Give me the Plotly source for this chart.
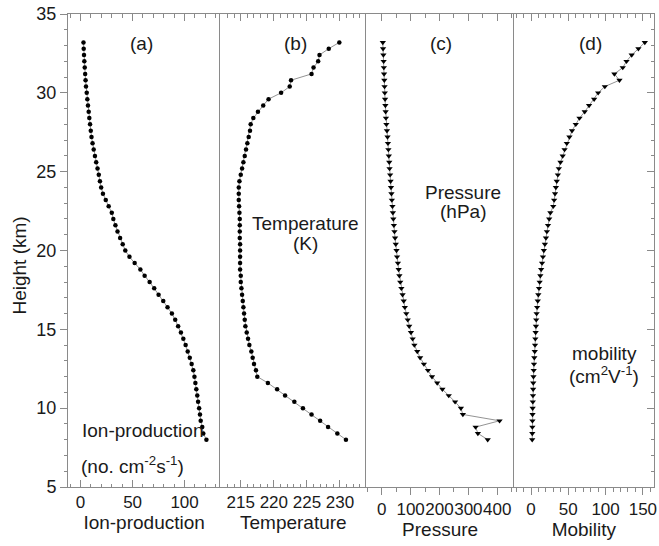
import plotly.graph_objects as go

# ---------------- data ----------------
heights = [8.0, 8.4, 8.8, 9.2, 9.6, 10.0, 10.4, 10.8, 11.2, 11.6, 12.0, 12.4, 12.8, 13.2, 13.6,
           14.0, 14.4, 14.8, 15.2, 15.6, 16.0, 16.4, 16.8, 17.2, 17.6, 18.0, 18.4, 18.8, 19.2, 19.6,
           20.0, 20.4, 20.8, 21.2, 21.6, 22.0, 22.4, 22.8, 23.2, 23.6, 24.0, 24.4, 24.8, 25.2, 25.6,
           26.0, 26.4, 26.8, 27.2, 27.6, 28.0, 28.4, 28.8, 29.2, 29.6, 30.0, 30.4, 30.8, 31.2, 31.6,
           32.0, 32.4, 32.8, 33.2]

ion_production = [121, 118, 117, 115.5, 114.8, 114, 113, 112.2, 111.3, 110.4, 109.5, 108.4, 106.8, 105, 103,
                  101, 98.8, 96.5, 93.8, 91, 87.8, 83.6, 79.5, 75, 70.8, 66.4, 61.6, 57.5, 52, 47,
                  43, 40.5, 38, 35.5, 33.5, 31.5, 30, 27, 24.2, 21.5, 19.8, 18.6, 17.5, 16.3, 15,
                  13.8, 12.6, 11.5, 10.5, 9.8, 9.1, 8.4, 7.8, 7.1, 6.5, 5.9, 5.2, 4.8, 4.4, 4.0,
                  3.6, 3.3, 3.0, 2.8]

temperature = [230.9, 229.6, 228.2, 227.0, 225.7, 224.4, 223.1, 221.7, 220.5, 219.1, 217.5, 217.3, 217.0, 216.8, 216.6,
               216.3, 216.1, 215.9, 215.7, 215.6, 215.5, 215.4, 215.3, 215.2, 215.1, 215.0, 215.0, 214.9, 214.9, 214.9,
               214.9, 214.9, 214.85, 214.85, 214.85, 214.85, 214.8, 214.75, 214.7, 214.7, 214.7, 214.8, 215.0, 215.2, 215.4,
               215.6, 215.8, 216.0, 216.2, 216.4, 216.5, 216.9, 217.6, 218.4, 219.2, 221.1, 222.4, 222.6, 225.7, 226.0,
               226.7, 226.9, 228.3, 229.9]

pressure = [367, 333, 325, 408, 281, 274, 254, 232, 210, 192, 174, 160, 146, 133, 123,
            113, 107, 101, 95, 90, 85, 80, 76, 72, 68, 64, 61, 58.5, 56, 53,
            51, 48.5, 46, 44, 42, 40, 38.5, 37, 35, 33.5, 32, 30.5, 29, 27, 26,
            24.5, 23, 21.5, 20, 18, 16, 14.5, 13.5, 12.5, 11.5, 10.5, 9.7, 8.9, 8.1, 7.3,
            6.5, 5.7, 4.6, 3.6]

mobility = [1.6, 1.7, 1.8, 1.9, 2.0, 2.2, 2.4, 2.6, 2.8, 3.0, 3.3, 3.6, 4.0, 4.4, 5.0,
            5.4, 5.8, 6.2, 6.6, 7.0, 7.5, 8.2, 9.0, 9.8, 10.7, 11.6, 12.5, 13.6, 14.8, 16.0,
            17.2, 18.6, 20.0, 21.3, 22.8, 24.4, 26.0, 29.8, 31.0, 32.2, 33.3, 34.5, 36, 37.3, 39.5,
            42.5, 45, 48, 51.5, 55, 60, 65, 72, 77.8, 84.6, 90, 99, 118.6, 111.8, 123,
            128, 135, 144, 152.6]

x_titles = ["Ion-production", "Temperature", "Pressure", "Mobility"]
panel_labels = ["(a)", "(b)", "(c)", "(d)"]
y_title = "Height (km)"

# ---------------- style ----------------
FONT = "Liberation Sans, Arial, sans-serif"
LINE = "#8a8a8a"
TXT = "#1a1a1a"
TICK_FS = 17
TITLE_FS = 19

fig = go.Figure()

series = [
    (ion_production, "x", "y", "circle", 4.5),
    (temperature, "x2", "y2", "circle", 4.5),
    (pressure, "x3", "y3", "triangle-down", 5.5),
    (mobility, "x4", "y4", "triangle-down", 5.5),
]
for vals, xa, ya, sym, sz in series:
    fig.add_trace(go.Scatter(
        x=vals, y=heights, xaxis=xa, yaxis=ya, mode="lines+markers",
        line=dict(color="#777777", width=0.8),
        marker=dict(symbol=sym, size=sz, color="black", line=dict(width=0)),
        showlegend=False, hoverinfo="skip"))

# invisible traces to realise the overlay axes (top ticks for c,d; right axis of d)
for xa, ya in [("x5", "y3"), ("x6", "y4"), ("x4", "y5")]:
    fig.add_trace(go.Scatter(x=[None], y=[None], xaxis=xa, yaxis=ya, mode="markers",
                             showlegend=False, hoverinfo="skip"))

d = [0, 0.2598, 0.5093, 0.7606, 1.0]
rng_a = [-12.1, 134.3]
rng_b = [211.9, 234]
rng_c = [-53, 457]
rng_d = [-23.2, 164.9]

def xax(i, rng, tickvals, minor_dtick, ticks, mirror):
    return dict(
        domain=[d[i], d[i + 1]], anchor="y" if i == 0 else f"y{i+1}", range=rng,
        tickmode="array", tickvals=tickvals, ticks=ticks, ticklen=7, tickcolor=LINE, tickwidth=1,
        minor=dict(dtick=minor_dtick, ticks=ticks, ticklen=3.5, tickcolor=LINE, tickwidth=1, tick0=0),
        showline=True, linecolor=LINE, linewidth=1, mirror=mirror, showgrid=False, zeroline=False,
        tickangle=0, ticklabeloverflow="allow",
        tickfont=dict(family=FONT, size=TICK_FS, color=TXT),
        title=dict(text=x_titles[i], font=dict(family=FONT, size=TITLE_FS, color=TXT), standoff=2),
    )

layout = dict(
    width=659, height=546, margin=dict(l=68, r=2, t=14, b=59),
    paper_bgcolor="white", plot_bgcolor="white",
    font=dict(family=FONT, color=TXT),
)
layout["xaxis"] = xax(0, rng_a, [0, 50, 100], 10, "inside", "ticks")
layout["xaxis2"] = xax(1, rng_b, [215, 220, 225, 230], 1, "inside", "ticks")
layout["xaxis3"] = xax(2, rng_c, [0, 100, 200, 300, 400], 50, "outside", True)
layout["xaxis4"] = xax(3, rng_d, [0, 50, 100, 150], 10, "outside", True)

# top tick overlays for panels c and d
for name, ov, anc, rng, mdt, tv in [("xaxis5", "x3", "y3", rng_c, 50, [0, 100, 200, 300, 400]),
                                    ("xaxis6", "x4", "y4", rng_d, 10, [0, 50, 100, 150])]:
    layout[name] = dict(overlaying=ov, anchor=anc, side="top", range=rng,
                        tickmode="array", tickvals=tv, ticks="inside", ticklen=7, tickcolor=LINE,
                        minor=dict(dtick=mdt, ticks="inside", ticklen=3.5, tickcolor=LINE, tick0=0),
                        showticklabels=False, showline=False, showgrid=False, zeroline=False)

layout["yaxis"] = dict(
    domain=[0, 1], anchor="x", range=[5, 35], tickmode="linear", tick0=5, dtick=5,
    ticks="outside", ticklen=7, tickcolor=LINE,
    minor=dict(dtick=1, ticks="outside", ticklen=3.5, tickcolor=LINE),
    showline=True, linecolor=LINE, linewidth=1, showgrid=False, zeroline=False,
    tickfont=dict(family=FONT, size=TICK_FS + 1, color=TXT),
)
for i in range(2, 5):
    layout[f"yaxis{i}"] = dict(domain=[0, 1], anchor=f"x{i}", range=[5, 35], showline=True,
                               linecolor=LINE, linewidth=1, ticks="", showticklabels=False,
                               showgrid=False, zeroline=False)
layout["yaxis5"] = dict(overlaying="y4", anchor="x4", side="right", range=[5, 35],
                        tickmode="linear", tick0=5, dtick=5, ticks="inside", ticklen=7, tickcolor=LINE,
                        minor=dict(dtick=1, ticks="inside", ticklen=3.5, tickcolor=LINE),
                        showticklabels=False, showline=True, linecolor=LINE, showgrid=False, zeroline=False)

fig.update_layout(**layout)

# y-axis title (placed slightly below centre, as in the reference)
fig.add_annotation(text=y_title, xref="paper", yref="paper", x=-0.083, y=0.469,
                   textangle=-90, showarrow=False, xanchor="center", yanchor="middle",
                   font=dict(family=FONT, size=TITLE_FS, color=TXT))

lab_font = dict(family=FONT, size=TITLE_FS, color=TXT)
for (i, xv), lab in zip([(0, 58.5), (1, 223.2), (2, 206), (3, 80)], panel_labels):
    fig.add_annotation(text=lab, xref="x" if i == 0 else f"x{i+1}", yref="y", x=xv, y=33.1,
                       showarrow=False, font=lab_font)

texts = [
    ("x", 60, 8.6, "Ion-production", "center"),
    ("x", -1.2, 6.4, "(no. cm<sup>-2</sup>s<sup>-1</sup>)", "left"),
    ("x2", 224.75, 21.7, "Temperature", "center"),
    ("x2", 224.75, 20.45, "(K)", "center"),
    ("x3", 280, 23.7, "Pressure", "center"),
    ("x3", 280, 22.5, "(hPa)", "center"),
    ("x4", 98, 13.45, "mobility", "center"),
    ("x4", 98, 12.1, "(cm<sup>2</sup>V<sup>-1</sup>)", "center"),
]
for xr, xv, yv, t, anc in texts:
    fig.add_annotation(text=t, xref=xr, yref="y", x=xv, y=yv, showarrow=False,
                       font=lab_font, xanchor=anc)

fig.write_html("out.html")
